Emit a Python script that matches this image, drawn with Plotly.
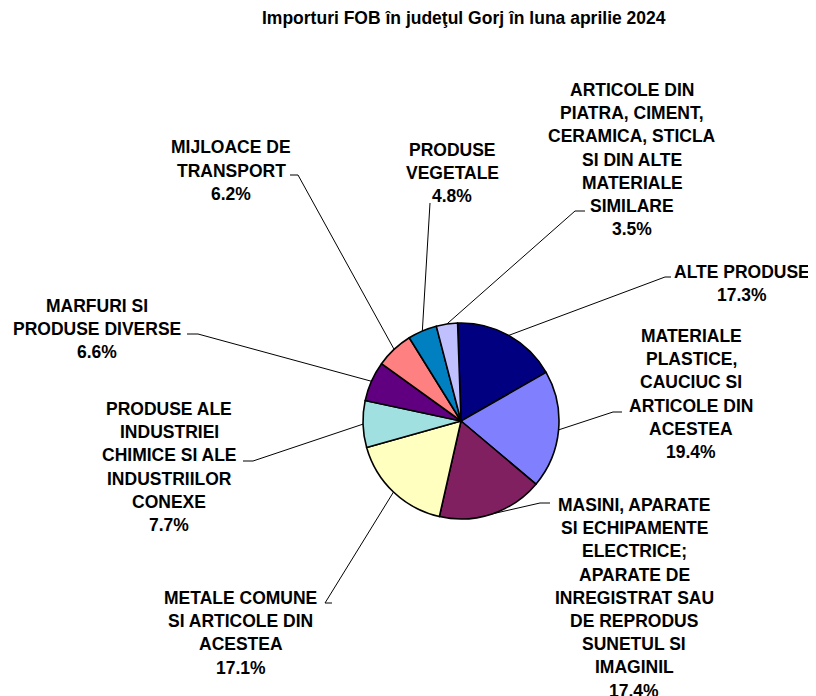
import math
import plotly.graph_objects as go

# ---------------- data ----------------
title_text = "Importuri FOB în judeţul Gorj în luna aprilie 2024"
categories = [
    "ALTE PRODUSE",
    "MATERIALE\nPLASTICE,\nCAUCIUC SI\nARTICOLE DIN\nACESTEA",
    "MASINI, APARATE\nSI ECHIPAMENTE\nELECTRICE;\nAPARATE DE\nINREGISTRAT SAU\nDE REPRODUS\nSUNETUL SI\nIMAGINIL",
    "METALE COMUNE\nSI ARTICOLE DIN\nACESTEA",
    "PRODUSE ALE\nINDUSTRIEI\nCHIMICE SI ALE\nINDUSTRIILOR\nCONEXE",
    "MARFURI SI\nPRODUSE DIVERSE",
    "MIJLOACE DE\nTRANSPORT",
    "PRODUSE\nVEGETALE",
    "ARTICOLE DIN\nPIATRA, CIMENT,\nCERAMICA, STICLA\nSI DIN ALTE\nMATERIALE\nSIMILARE",
]
values = [17.3, 19.4, 17.4, 17.1, 7.7, 6.6, 6.2, 4.8, 3.5]
colors = ["#000080", "#8080FF", "#802060", "#FFFFC0", "#A0E0E0",
          "#600080", "#FF8080", "#0080C0", "#C0C0FF"]

# ---------------- layout geometry (window pixels) ----------------
OFF = 8                      # page body margin
W, H = 816 - OFF, 696 - OFF  # figure size
PCX, PCY, PR = 461, 421, 98
ROTATION = -2
FONT = dict(family="Liberation Sans, Arial, sans-serif", size=17.5, color="black", weight="bold")
LINE_GAP = 23.2

# per slice: label centre x, first-line y, bend point, stub end
label_pos = [
    dict(cx=742, y0=271.5, bend=(665, 277), stub=(671, 277)),
    dict(cx=691, y0=336, bend=(613, 412), stub=(622, 412)),
    dict(cx=634, y0=505, bend=(540, 503), stub=(550, 503)),
    dict(cx=241, y0=598, bend=(325, 603), stub=(332, 603)),
    dict(cx=169, y0=409, bend=(253, 461), stub=(243, 461)),
    dict(cx=96.5, y0=306, bend=(198, 334), stub=(187, 334)),
    dict(cx=231, y0=147.5, bend=(298, 175), stub=(290, 175)),
    dict(cx=452, y0=150, bend=(430, 203), stub=(430, 203)),
    dict(cx=632, y0=90, bend=(575, 211), stub=(585, 211)),
]


def px(x):
    return (x - OFF) / W


def py(y):
    return 1 - (y - OFF) / H


fig = go.Figure(go.Pie(
    labels=[c.replace("\n", " ") for c in categories],
    values=values,
    sort=False,
    direction="clockwise",
    rotation=ROTATION,
    marker=dict(colors=colors, line=dict(color="black", width=1.6)),
    textinfo="none",
    hoverinfo="label+percent",
    showlegend=False,
    domain=dict(x=[px(PCX - PR), px(PCX + PR)], y=[py(PCY + PR), py(PCY - PR)]),
))

total = sum(values)
cum = 0.0
shapes = []
annotations = []
for cat, v, pos in zip(categories, values, label_pos):
    mid = math.radians(ROTATION + (cum + v / 2) / total * 360)
    cum += v
    ex = PCX + PR * math.sin(mid)
    ey = PCY - PR * math.cos(mid)
    bx, by = pos["bend"]
    sx, sy = pos["stub"]
    shapes.append(dict(
        type="path", xref="paper", yref="paper",
        path=f"M {px(ex)},{py(ey)} L {px(bx)},{py(by)} L {px(sx)},{py(sy)}",
        line=dict(color="black", width=1),
    ))
    lines = cat.split("\n") + [f"{v:.1f}%"]
    for i, t in enumerate(lines):
        annotations.append(dict(
            text=t, xref="paper", yref="paper",
            x=px(pos["cx"]), y=py(pos["y0"] + i * LINE_GAP),
            xanchor="center", yanchor="middle", showarrow=False,
            font=FONT,
        ))

annotations.append(dict(
    text=title_text, xref="paper", yref="paper",
    x=px(464), y=py(18), xanchor="center", yanchor="middle",
    showarrow=False, font=FONT,
))

fig.update_layout(
    width=W, height=H,
    margin=dict(l=0, r=0, t=0, b=0),
    paper_bgcolor="white", plot_bgcolor="white",
    shapes=shapes, annotations=annotations,
)

fig.write_html("out.html")
